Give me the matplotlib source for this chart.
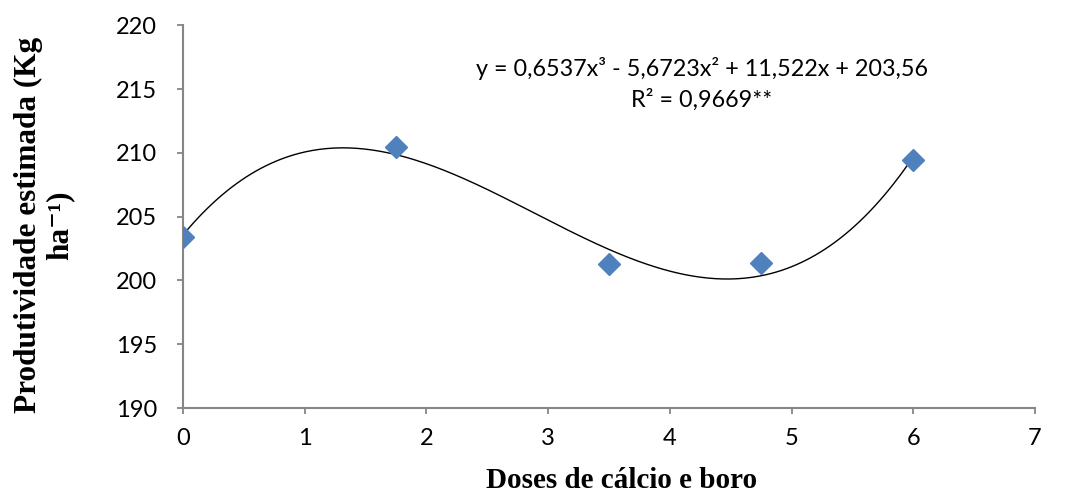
import matplotlib.pyplot as plt
import numpy as np

# doses and estimated productivity
doses = [0, 1.75, 3.5, 4.75, 6]
produtividade = [203.4, 210.45, 201.3, 201.4, 209.45]

# cubic trendline coefficients shown on the chart
coef = [0.6537, -5.6723, 11.522, 203.56]

fig = plt.figure(figsize=(10.72, 4.94), dpi=100)
ax = fig.add_axes([0.1707, 0.174, 0.7948, 0.775])

xs = np.linspace(0, 6, 300)
ax.plot(xs, np.polyval(coef, xs), color='black', lw=1.0, zorder=2)
ax.plot(doses, produtividade, 'D', color='#4F81BD', markersize=11.5,
        markeredgecolor='#4F81BD', zorder=3)

ax.set_xlim(0, 7)
ax.set_ylim(190, 220)
ax.set_xticks(range(0, 8))
ax.set_yticks(range(190, 221, 5))

for side in ('top', 'right'):
    ax.spines[side].set_visible(False)
for side in ('left', 'bottom'):
    ax.spines[side].set_color('#868686')
    ax.spines[side].set_linewidth(1.5)
ax.tick_params(direction='out', length=4.5, width=1.3, color='#868686',
               labelsize=17)
ax.tick_params(axis='y', pad=14)
ax.tick_params(axis='x', pad=10)
for lab in ax.get_xticklabels() + ax.get_yticklabels():
    lab.set_family('Lato')

serif = ['Liberation Serif', 'DejaVu Serif']
ax.set_xlabel('Doses de cálcio e boro', family=serif,
              fontweight='bold', fontsize=21)
ax.xaxis.set_label_coords(0.515, -0.155)
ax.set_ylabel('Produtividade estimada (Kg\nha⁻¹)', family=serif,
              fontweight='bold', fontsize=22.5, linespacing=1.1)
ax.yaxis.set_label_coords(-0.128, 0.478)

ax.text(4.26, 215.4, 'y = 0,6537x³ - 5,6723x² + 11,522x + 203,56\nR² = 0,9669**',
        ha='center', va='center', family='Lato', fontsize=16.8, linespacing=1.45)

fig.savefig('out.png', dpi=100)
